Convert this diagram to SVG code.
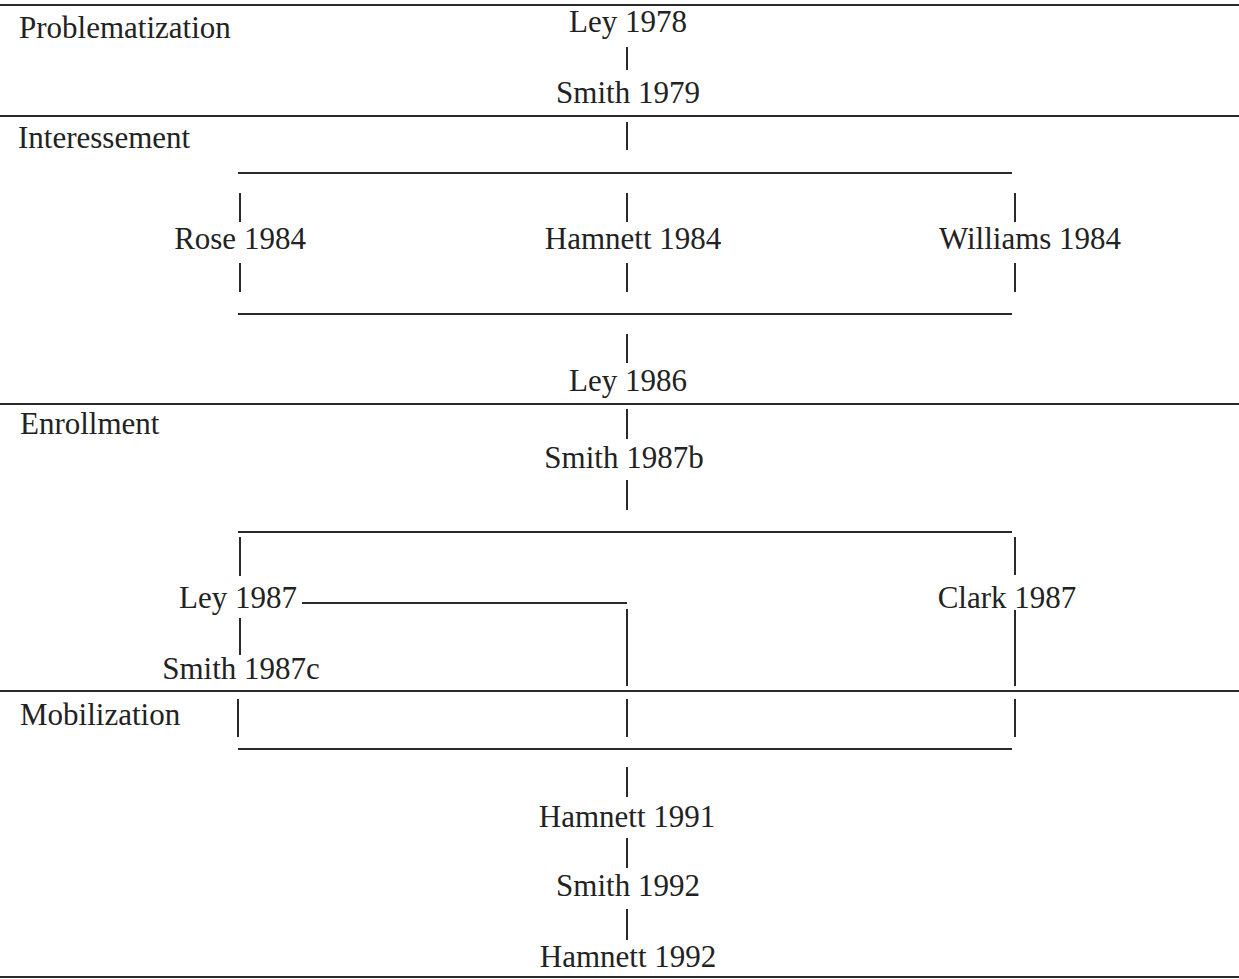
<svg xmlns="http://www.w3.org/2000/svg" width="1239" height="979" viewBox="0 0 1239 979">
<style>
text{font-family:"Liberation Serif","Times New Roman",serif;font-size:31px;fill:#222}
.c{text-anchor:middle}
line{stroke:#2a2a2a;stroke-width:2}
</style>
<rect width="1239" height="979" fill="#fff"/>
<g id="phases">
<line x1="0" y1="5" x2="1239" y2="5"/>
<line x1="0" y1="116" x2="1239" y2="116"/>
<line x1="0" y1="404" x2="1239" y2="404"/>
<line x1="0" y1="691" x2="1239" y2="691"/>
<line x1="0" y1="977" x2="1239" y2="977"/>
<text x="19" y="38">Problematization</text>
<text x="18" y="148">Interessement</text>
<text x="20" y="434">Enrollment</text>
<text x="20" y="725">Mobilization</text>
</g>
<g id="connectors">
<line x1="627" y1="47" x2="627" y2="70"/>
<line x1="627" y1="122" x2="627" y2="150"/>
<line x1="238" y1="173" x2="1012" y2="173"/>
<line x1="240" y1="193" x2="240" y2="222"/>
<line x1="627" y1="193" x2="627" y2="222"/>
<line x1="1015" y1="193" x2="1015" y2="222"/>
<line x1="240" y1="263" x2="240" y2="292"/>
<line x1="627" y1="263" x2="627" y2="292"/>
<line x1="1015" y1="263" x2="1015" y2="292"/>
<line x1="238" y1="314" x2="1012" y2="314"/>
<line x1="627" y1="334" x2="627" y2="363"/>
<line x1="627" y1="409" x2="627" y2="439"/>
<line x1="627" y1="480" x2="627" y2="510"/>
<line x1="238" y1="532" x2="1012" y2="532"/>
<line x1="240" y1="537" x2="240" y2="576"/>
<line x1="1015" y1="537" x2="1015" y2="575"/>
<line x1="302" y1="603" x2="627" y2="603"/>
<line x1="240" y1="618" x2="240" y2="655"/>
<line x1="627" y1="609" x2="627" y2="686"/>
<line x1="1015" y1="610" x2="1015" y2="686"/>
<line x1="238" y1="699" x2="238" y2="737"/>
<line x1="627" y1="699" x2="627" y2="737"/>
<line x1="1015" y1="699" x2="1015" y2="737"/>
<line x1="238" y1="749" x2="1012" y2="749"/>
<line x1="627" y1="767" x2="627" y2="797"/>
<line x1="627" y1="838" x2="627" y2="868"/>
<line x1="627" y1="909" x2="627" y2="940"/>
</g>
<g id="ley1978"><text class="c" x="628" y="32">Ley 1978</text></g>
<g id="smith1979"><text class="c" x="628" y="103">Smith 1979</text></g>
<g id="rose1984"><text class="c" x="240" y="249">Rose 1984</text></g>
<g id="hamnett1984"><text class="c" x="633" y="249">Hamnett 1984</text></g>
<g id="williams1984"><text class="c" x="1030" y="249">Williams 1984</text></g>
<g id="ley1986"><text class="c" x="628" y="391">Ley 1986</text></g>
<g id="smith1987b"><text class="c" x="624" y="468">Smith 1987b</text></g>
<g id="ley1987"><text class="c" x="238" y="608">Ley 1987</text></g>
<g id="clark1987"><text class="c" x="1007" y="608">Clark 1987</text></g>
<g id="smith1987c"><text class="c" x="241" y="679">Smith 1987c</text></g>
<g id="hamnett1991"><text class="c" x="627" y="827">Hamnett 1991</text></g>
<g id="smith1992"><text class="c" x="628" y="896">Smith 1992</text></g>
<g id="hamnett1992"><text class="c" x="628" y="967">Hamnett 1992</text></g>
</svg>
